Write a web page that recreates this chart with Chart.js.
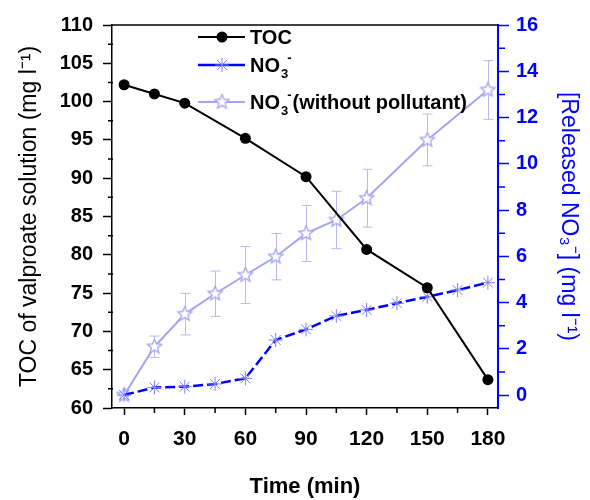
<!DOCTYPE html>
<html>
<head>
<meta charset="utf-8">
<script src="https://cdn.jsdelivr.net/npm/chart.js@4.4.1/dist/chart.umd.min.js"></script>
<style>
  html, body { margin: 0; padding: 0; background: #fff; }
  #wrap { width: 590px; height: 500px; }
</style>
</head>
<body>
<div id="wrap"><canvas id="chart" width="590" height="500"></canvas></div>
<script>
// Données
const tocTime = [0, 15, 30, 60, 90, 120, 150, 180];
const tocValues = [102.2, 101.0, 99.8, 95.2, 90.2, 80.7, 75.7, 63.7];

const no3Time = [0, 15, 30, 45, 60, 75, 90, 105, 120, 135, 150, 165, 180];
const no3Values = [0, 0.33, 0.36, 0.48, 0.72, 2.38, 2.84, 3.42, 3.68, 3.97, 4.25, 4.54, 4.86];

const no3wTime = [0, 15, 30, 45, 60, 75, 90, 105, 120, 150, 180];
const no3wValues = [0, 2.09, 3.50, 4.38, 5.19, 5.98, 6.99, 7.57, 8.51, 11.03, 13.19];
const no3wErrors = [0, 0.46, 0.90, 0.98, 1.23, 1.00, 1.21, 1.24, 1.25, 1.12, 1.27];

const xTicks = [0, 30, 60, 90, 120, 150, 180];
const xMinor = [15, 45, 75, 105, 135, 165];
const leftTicks = [60, 65, 70, 75, 80, 85, 90, 95, 100, 105, 110];
const leftMinor = [62.5, 67.5, 72.5, 77.5, 82.5, 87.5, 92.5, 97.5, 102.5, 107.5];
const rightTicks = [0, 2, 4, 6, 8, 10, 12, 14, 16];
const rightMinor = [1, 3, 5, 7, 9, 11, 13, 15];

const FONT = "'Liberation Sans', Arial, sans-serif";
const BLUE = '#0000ff';
const ASTER = '#8080ff';
const LAV = '#a4a4f2';
const ERR = '#b8b8f2';

// Étoile à 5 branches (creuse) pour la série sans polluant
function makeStar(r, color) {
    const size = Math.ceil(r * 2 + 4);
    const c = document.createElement('canvas');
    c.width = size; c.height = size;
    const g = c.getContext('2d');
    const cx = size / 2, cy = size / 2, ri = r * 0.45;
    g.beginPath();
    for (let i = 0; i < 10; i++) {
        const rad = i % 2 === 0 ? r : ri;
        const a = -Math.PI / 2 + i * Math.PI / 5;
        const px = cx + rad * Math.cos(a), py = cy + rad * Math.sin(a);
        if (i === 0) g.moveTo(px, py); else g.lineTo(px, py);
    }
    g.closePath();
    g.fillStyle = '#fff';
    g.fill();
    g.strokeStyle = color;
    g.lineWidth = 1.3;
    g.stroke();
    return c;
}
const starImg = makeStar(7.5, LAV);

function pts(xs, ys) {
    return xs.map((t, i) => ({ x: t, y: ys[i] }));
}

function drawAsterisk(ctx, x, y, r, color) {
    ctx.save();
    ctx.strokeStyle = color;
    ctx.lineWidth = 1;
    ctx.beginPath();
    for (let k = 0; k < 4; k++) {
        const a = k * Math.PI / 4;
        ctx.moveTo(x - r * Math.cos(a), y - r * Math.sin(a));
        ctx.lineTo(x + r * Math.cos(a), y + r * Math.sin(a));
    }
    ctx.stroke();
    ctx.restore();
}

// Texte avec indice 3 et exposant "-"
function drawNO3(ctx, x, y, rest) {
    ctx.font = 'bold 20px ' + FONT;
    ctx.fillText('NO', x, y);
    let cx = x + ctx.measureText('NO').width + 1;
    ctx.font = 'bold 13px ' + FONT;
    ctx.fillText('3', cx, y + 6);
    const w3 = ctx.measureText('3').width;
    ctx.fillText('-', cx + w3 - 1, y - 10);
    cx += w3 + ctx.measureText('-').width;
    if (rest) {
        ctx.font = 'bold 20px ' + FONT;
        ctx.fillText(rest, cx, y);
    }
}

const extras = {
    id: 'extras',
    beforeDatasetsDraw(chart) {
        // barres d'erreur
        const ctx = chart.ctx, xs = chart.scales.x, ys = chart.scales.y1;
        ctx.save();
        ctx.strokeStyle = ERR;
        ctx.lineWidth = 1;
        no3wTime.forEach((t, i) => {
            const e = no3wErrors[i];
            if (!e) return;
            const px = Math.round(xs.getPixelForValue(t)) + 0.5;
            const top = ys.getPixelForValue(no3wValues[i] + e);
            const bot = ys.getPixelForValue(no3wValues[i] - e);
            ctx.beginPath();
            ctx.moveTo(px, top); ctx.lineTo(px, bot);
            ctx.moveTo(px - 5, top); ctx.lineTo(px + 5, top);
            ctx.moveTo(px - 5, bot); ctx.lineTo(px + 5, bot);
            ctx.stroke();
        });
        ctx.restore();
    },
    afterDraw(chart) {
        const ctx = chart.ctx, a = chart.chartArea;
        const xs = chart.scales.x, yl = chart.scales.y, yr = chart.scales.y1;
        ctx.save();
        // cadre du haut
        ctx.strokeStyle = '#000';
        ctx.lineWidth = 1.5;
        ctx.beginPath();
        ctx.moveTo(a.left, a.top);
        ctx.lineTo(a.right, a.top);
        ctx.stroke();
        // graduations secondaires
        ctx.lineWidth = 1.5;
        ctx.beginPath();
        leftMinor.forEach(v => {
            const p = yl.getPixelForValue(v);
            ctx.moveTo(a.left - 4, p); ctx.lineTo(a.left + 1, p);
        });
        xMinor.forEach(v => {
            const p = xs.getPixelForValue(v);
            ctx.moveTo(p, a.bottom); ctx.lineTo(p, a.bottom + 5);
        });
        ctx.stroke();
        ctx.strokeStyle = BLUE;
        ctx.beginPath();
        rightMinor.forEach(v => {
            const p = yr.getPixelForValue(v);
            ctx.moveTo(a.right, p); ctx.lineTo(a.right + 7, p);
        });
        ctx.stroke();

        // légende
        const lx0 = 198, lx1 = 245, mx = 222, tx = 250;
        const rows = [37, 65, 102];
        ctx.lineWidth = 2;
        ctx.strokeStyle = '#000';
        ctx.beginPath(); ctx.moveTo(lx0, rows[0]); ctx.lineTo(lx1, rows[0]); ctx.stroke();
        ctx.fillStyle = '#000';
        ctx.beginPath(); ctx.arc(mx, rows[0], 5.5, 0, Math.PI * 2); ctx.fill();

        ctx.strokeStyle = BLUE;
        ctx.lineWidth = 2.5;
        ctx.beginPath(); ctx.moveTo(lx0, rows[1]); ctx.lineTo(lx1, rows[1]); ctx.stroke();
        drawAsterisk(ctx, mx, rows[1], 7, ASTER);

        ctx.strokeStyle = LAV;
        ctx.lineWidth = 2;
        ctx.beginPath(); ctx.moveTo(lx0, rows[2]); ctx.lineTo(lx1, rows[2]); ctx.stroke();
        ctx.drawImage(starImg, mx - starImg.width / 2, rows[2] - starImg.height / 2);

        ctx.fillStyle = '#000';
        ctx.textBaseline = 'alphabetic';
        ctx.textAlign = 'left';
        ctx.font = 'bold 20px ' + FONT;
        ctx.fillText('TOC', tx, rows[0] + 7);
        drawNO3(ctx, tx, rows[1] + 7, '');
        drawNO3(ctx, tx, rows[2] + 7, '(without pollutant)');
        ctx.restore();
    }
};

const ctx = document.getElementById('chart').getContext('2d');
const chart = new Chart(ctx, {
    type: 'line',
    data: {
        datasets: [{
            label: 'TOC',
            data: pts(tocTime, tocValues),
            yAxisID: 'y',
            borderColor: '#000',
            backgroundColor: '#000',
            borderWidth: 2,
            pointStyle: 'circle',
            pointRadius: 5.5,
            pointBorderWidth: 0,
            pointBackgroundColor: '#000',
            tension: 0
        }, {
            label: 'NO3-',
            data: pts(no3Time, no3Values),
            yAxisID: 'y1',
            borderColor: BLUE,
            borderWidth: 2.5,
            borderDash: [10, 4],
            pointStyle: 'star',
            pointRadius: 7,
            pointBorderWidth: 1,
            pointBorderColor: ASTER,
            pointBackgroundColor: ASTER,
            tension: 0
        }, {
            label: 'NO3- (without pollutant)',
            data: pts(no3wTime, no3wValues),
            yAxisID: 'y1',
            borderColor: LAV,
            borderWidth: 2,
            pointStyle: starImg,
            pointRadius: 7,
            tension: 0
        }]
    },
    options: {
        responsive: false,
        animation: false,
        devicePixelRatio: 1,
        layout: { padding: { top: 25, left: 0, right: 0, bottom: 0 } },
        plugins: {
            legend: { display: false },
            tooltip: { enabled: false }
        },
        scales: {
            x: {
                type: 'linear',
                min: -6,
                max: 185,
                afterBuildTicks: s => { s.ticks = xTicks.map(v => ({ value: v })); },
                afterFit: s => { s.height = 92; },
                ticks: {
                    color: '#000',
                    font: { family: FONT, size: 21, weight: 'bold' },
                    padding: 12,
                    maxRotation: 0,
                    autoSkip: false
                },
                grid: { drawOnChartArea: false, tickLength: 7, tickWidth: 1.5, tickColor: '#000' },
                border: { color: '#000', width: 1.5 },
                title: {
                    display: true,
                    text: 'Time (min)',
                    color: '#000',
                    font: { family: FONT, size: 22, weight: 'bold' },
                    padding: { top: 0, bottom: 0 }
                }
            },
            y: {
                position: 'left',
                min: 60,
                max: 110,
                afterBuildTicks: s => { s.ticks = leftTicks.map(v => ({ value: v })); },
                afterFit: s => { s.width = 112; },
                ticks: {
                    color: '#000',
                    font: { family: FONT, size: 20, weight: 'bold' },
                    padding: 10
                },
                grid: { drawOnChartArea: false, tickLength: 9, tickWidth: 1.5, tickColor: '#000' },
                border: { color: '#000', width: 1.5 },
                title: {
                    display: true,
                    text: 'TOC of valproate solution (mg l\u207B\u00B9)',
                    color: '#000',
                    font: { family: FONT, size: 23 },
                    padding: { top: 16, bottom: 0 }
                }
            },
            y1: {
                position: 'right',
                min: -0.56,
                max: 16,
                afterBuildTicks: s => { s.ticks = rightTicks.map(v => ({ value: v })); },
                afterFit: s => { s.width = 92; },
                ticks: {
                    color: BLUE,
                    font: { family: FONT, size: 20, weight: 'bold' },
                    padding: 7
                },
                grid: { drawOnChartArea: false, tickLength: 11, tickWidth: 1.5, tickColor: BLUE },
                border: { color: BLUE, width: 2 },
                title: {
                    display: true,
                    text: '[Released NO\u2083\u207B] (mg l\u207B\u00B9)',
                    color: BLUE,
                    font: { family: FONT, size: 23 },
                    padding: { top: 8, bottom: 0 }
                }
            }
        }
    },
    plugins: [extras]
});
</script>
</body>
</html>
